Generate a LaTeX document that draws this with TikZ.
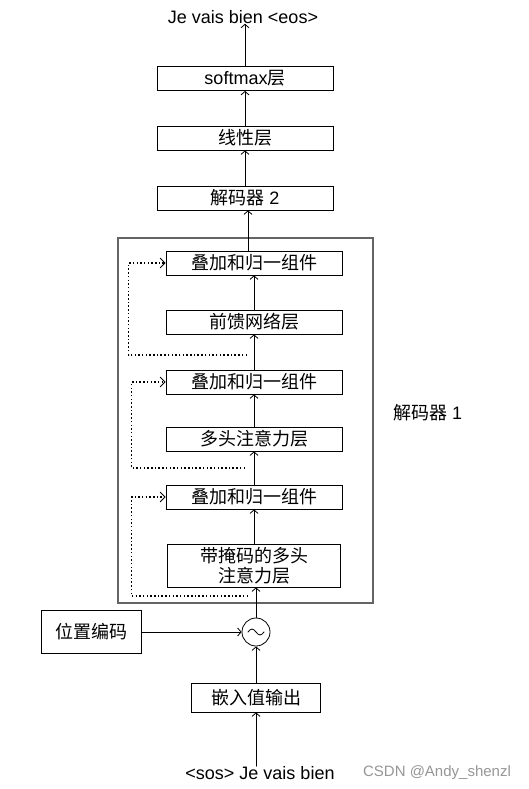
\documentclass[tikz,border=0pt]{standalone}
\usepackage{fontspec}
\setmainfont{Liberation Sans}
\newfontfamily\cjk{Noto Sans CJK SC}
\usetikzlibrary{arrows.meta}

\definecolor{markgray}{RGB}{150,150,150}
\definecolor{framegray}{RGB}{100,100,100}

\tikzset{
	txt/.style={inner sep=0pt, font=\fontsize{18}{20}\selectfont},
	layer/.style={txt, draw, line width=0.8pt, minimum width=176pt,
		minimum height=24pt},
	frame/.style={draw=framegray, line width=1.4pt, minimum width=255pt,
		minimum height=365pt, inner sep=0pt},
	flow/.style={-{Straight Barb[length=3.5pt,width=8pt,line width=0.8pt]},
		line width=0.8pt},
	skip/.style={-{Straight Barb[length=5pt,width=10pt,line width=0.8pt]},
		line width=1.5pt, line cap=butt, dash pattern=on 1.5pt off 2.2pt}
}

\begin{document}
\begin{tikzpicture}[x=1pt, y=-1pt, line cap=round]

			% page
			\useasboundingbox (0,0) rectangle (529,789);

			% output side
			\node[txt] (out) at (243,17) {Je vais bien <eos>};
			\node[layer] (soft) at (245,78.5) {softmax{\cjk 层}};
			\node[layer] (lin) at (245,138) {\cjk 线性层};
			\node[layer] (dec2) at (245,198) {{\cjk 解码器} 2};

			% decoder 1
			\node[frame] (dec1) at (245.5,420.5) {};
			\node[txt, anchor=west] (declab) at (393,413) {{\cjk 解码器} 1};
			\node[layer] (an1) at (254,263) {\cjk 叠加和归一组件};
			\node[layer] (ffn) at (254,322) {\cjk 前馈网络层};
			\node[layer] (an2) at (254,382) {\cjk 叠加和归一组件};
			\node[layer] (mha) at (254,439) {\cjk 多头注意力层};
			\node[layer] (an3) at (254,497) {\cjk 叠加和归一组件};
			\node[layer, minimum width=173pt, minimum height=43pt,
				align=center, font=\fontsize{18}{20}\selectfont\cjk]
				(mmha) at (254,565.5) {带掩码的多头\\注意力层};

			% input side
			\node[circle, draw, line width=0.8pt, minimum size=28pt,
				inner sep=0pt] (mix) at (256,632) {};
			\draw[line width=0.8pt] ([xshift=-8pt]mix.center)
				sin ++(4,-3) cos ++(4,3) sin ++(4,3) cos ++(4,-3);
			\node[layer, minimum width=100pt, minimum height=43pt]
				(pe) at (91,632) {\cjk 位置编码};
			\node[layer, minimum width=129pt, minimum height=29pt]
				(emb) at (256,697.5) {\cjk 嵌入值输出};
			\node[txt] (in) at (260,773) {<sos> Je vais bien};
			\node[txt, font=\fontsize{15}{17}\selectfont, text=markgray]
				(mark) at (437,773) {CSDN @Andy\_shenzl};

			% main flow
			\draw[flow] (emb.south |- in.north) -- (emb.south);
			\draw[flow] (emb.north) -- (mix.south);
			\draw[flow] (pe.east) -- (mix.west);
			\draw[flow] (mix.north) -- (mix.north |- mmha.south);
			\draw[flow] (mmha.north) -- (an3.south);
			\draw[flow] (an3.north) -- (mha.south);
			\draw[flow] (mha.north) -- (an2.south);
			\draw[flow] (an2.north) -- (ffn.south);
			\draw[flow] (ffn.north) -- (an1.south);
			\draw[flow] ([xshift=-6pt]an1.north) -- ([xshift=-6pt]an1.north |- dec2.south);
			\draw[flow] (dec2.north) -- (lin.south);
			\draw[flow] (lin.north) -- (soft.south);
			\draw[flow] (soft.north) -- (soft.north |- out.south);

			% residual paths
			\coordinate (r1) at (247,355);
			\coordinate (r2) at (245,468);
			\coordinate (r3) at (248,596);
			\draw[skip] (r1) -| ([xshift=-37pt]an1.west) -- (an1.west);
			\draw[skip] (r2) -| ([xshift=-34pt]an2.west) -- (an2.west);
			\draw[skip] (r3) -| ([xshift=-34pt]an3.west) -- (an3.west);

		\end{tikzpicture}
\end{document}
